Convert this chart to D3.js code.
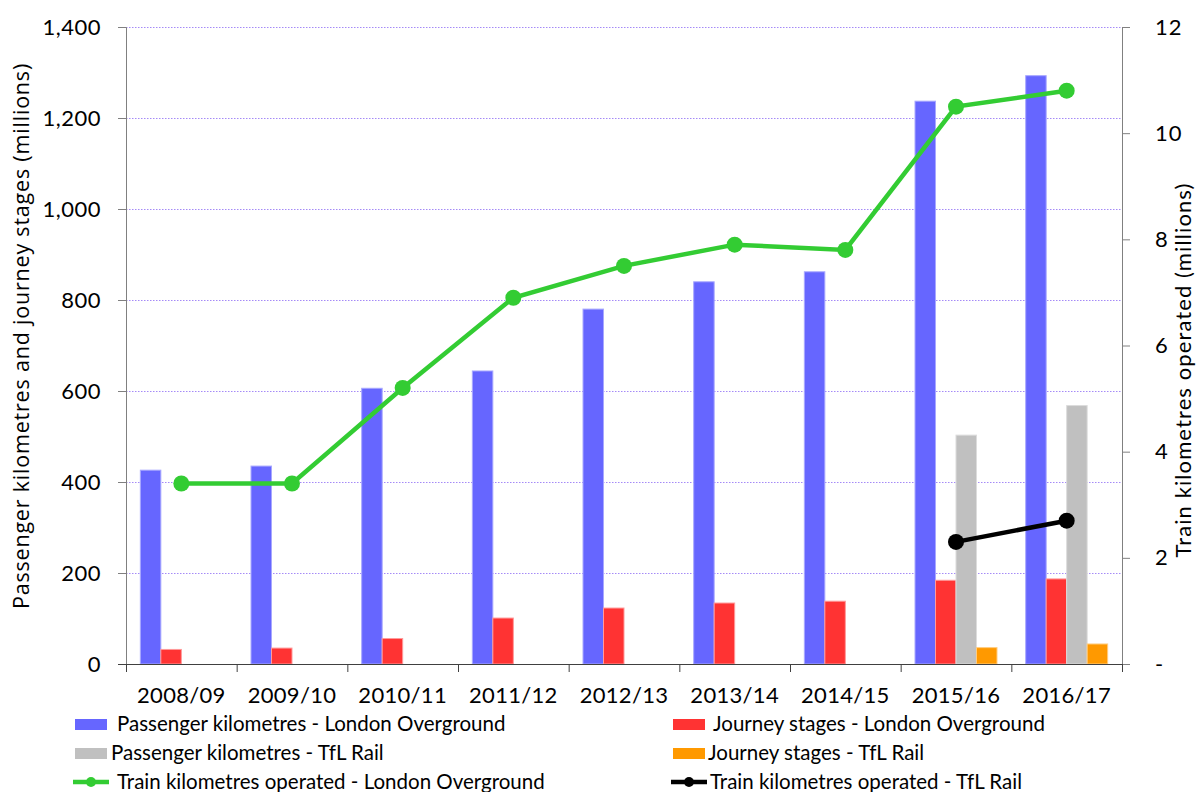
<!DOCTYPE html>
<html>
<head>
<meta charset="utf-8">
<script src="https://cdn.jsdelivr.net/npm/d3@7"></script>
<style>
  body { margin: 0; background: #fff; }
  text { font-family: Lato, "Open Sans", sans-serif; fill: #000; }
</style>
</head>
<body>
<svg id="chart" width="1196" height="792"></svg>
<script>
//Chart data
var years = ["2008/09", "2009/10", "2010/11", "2011/12", "2012/13", "2013/14", "2014/15", "2015/16", "2016/17"];
var paxKmOverground = [426, 435, 606, 644, 780, 840, 862, 1237, 1293];
var journeysOverground = [32, 35, 56, 101, 123, 134, 138, 184, 187];
var paxKmTflRail = [null, null, null, null, null, null, null, 503, 568];
var journeysTflRail = [null, null, null, null, null, null, null, 36, 44];
var trainKmOverground = [3.4, 3.4, 5.2, 6.9, 7.5, 7.9, 7.8, 10.5, 10.8];
var trainKmTflRail = [null, null, null, null, null, null, null, 2.3, 2.7];
var leftTicks = [0, 200, 400, 600, 800, 1000, 1200, 1400];
var rightTicks = [0, 2, 4, 6, 8, 10, 12];

function drawChart(){
    //bar series in drawing order
    var barSeries = [
        {name: "Passenger kilometres - London Overground", values: paxKmOverground, color: "#6666ff", edge: "#a8a8ff"},
        {name: "Journey stages - London Overground", values: journeysOverground, color: "#ff3333", edge: "#ff9a9a"},
        {name: "Passenger kilometres - TfL Rail", values: paxKmTflRail, color: "#c0c0c0", edge: "#dcdcdc"},
        {name: "Journey stages - TfL Rail", values: journeysTflRail, color: "#ff9900", edge: "#ffcc80"}
    ];
    var lineSeries = [
        {name: "Train kilometres operated - London Overground", values: trainKmOverground, color: "#33cc33"},
        {name: "Train kilometres operated - TfL Rail", values: trainKmTflRail, color: "#000000"}
    ];

    var svg = d3.select("#chart");
    var plotLeft = 126, plotRight = 1122, plotTop = 27, plotBottom = 664;

    //scales
    var x = d3.scaleBand().domain(years).range([plotLeft, plotRight]);
    var x1 = d3.scaleBand().domain(d3.range(barSeries.length))
        .range([0, x.bandwidth()]).paddingInner(0).paddingOuter(0.7);
    var y = d3.scaleLinear().domain([0, 1400]).range([plotBottom, plotTop]);
    var y2 = d3.scaleLinear().domain([0, 12]).range([plotBottom, plotTop]);

    //dotted gridlines
    svg.append("g").selectAll("line")
        .data(leftTicks.filter(function(d){ return d > 0; }))
        .enter().append("line")
        .attr("x1", plotLeft).attr("x2", plotRight)
        .attr("y1", function(d){ return y(d) + 0.5; })
        .attr("y2", function(d){ return y(d) + 0.5; })
        .attr("stroke", "#a58af7")
        .attr("stroke-width", 1)
        .attr("stroke-dasharray", "1.5,1.5");

    //bars
    barSeries.forEach(function(s, i){
        svg.append("g").selectAll("rect")
            .data(s.values.map(function(v, j){ return {year: years[j], value: v}; })
                .filter(function(d){ return d.value != null; }))
            .enter().append("rect")
            .attr("x", function(d){ return x(d.year) + x1(i); })
            .attr("width", x1.bandwidth())
            .attr("y", function(d){ return y(d.value); })
            .attr("height", function(d){ return plotBottom - y(d.value); })
            .attr("fill", s.color)
            .attr("stroke", s.edge)
            .attr("stroke-width", 1);
    });

    //left axis
    var leftAxis = svg.append("g")
        .attr("transform", "translate(" + plotLeft + ",0)")
        .call(d3.axisLeft(y).tickValues(leftTicks).tickSize(8).tickPadding(17)
            .tickFormat(d3.format(",")));
    leftAxis.select(".domain").attr("stroke", "#808080");
    leftAxis.selectAll(".tick line").attr("stroke", "#808080");
    leftAxis.selectAll("text").style("font-size", "22px").style("font-family", "Lato")
        .style("letter-spacing", "0.5px");

    //right axis
    var rightAxis = svg.append("g")
        .attr("transform", "translate(" + plotRight + ",0)")
        .call(d3.axisRight(y2).tickValues(rightTicks).tickSize(8).tickPadding(25)
            .tickFormat(function(d){ return d == 0 ? "-" : d; }));
    rightAxis.select(".domain").attr("stroke", "#808080");
    rightAxis.selectAll(".tick line").attr("stroke", "#808080");
    rightAxis.selectAll("text").style("font-size", "22px").style("font-family", "Lato")
        .style("letter-spacing", "1px");

    //bottom axis with ticks on the category edges
    svg.append("line")
        .attr("x1", plotLeft - 8).attr("x2", plotRight)
        .attr("y1", plotBottom + 0.5).attr("y2", plotBottom + 0.5)
        .attr("stroke", "#404040");
    svg.append("g").selectAll("line")
        .data(years.concat(["end"]))
        .enter().append("line")
        .attr("x1", function(d, i){ return plotLeft + i * x.step() + 0.5; })
        .attr("x2", function(d, i){ return plotLeft + i * x.step() + 0.5; })
        .attr("y1", plotBottom).attr("y2", plotBottom + 8)
        .attr("stroke", "#404040");
    svg.append("g").selectAll("text")
        .data(years)
        .enter().append("text")
        .attr("x", function(d){ return x(d) + x.bandwidth() / 2; })
        .attr("y", plotBottom + 39)
        .attr("text-anchor", "middle")
        .style("font-size", "22px")
        .style("letter-spacing", "0.3px")
        .text(function(d){ return d; });

    //lines with markers
    lineSeries.forEach(function(s){
        var pts = s.values.map(function(v, j){ return {year: years[j], value: v}; })
            .filter(function(d){ return d.value != null; });
        var line = d3.line()
            .x(function(d){ return x(d.year) + x.bandwidth() / 2; })
            .y(function(d){ return y2(d.value); });
        svg.append("path")
            .datum(pts)
            .attr("d", line)
            .attr("fill", "none")
            .attr("stroke", s.color)
            .attr("stroke-width", 4.5);
        svg.append("g").selectAll("circle")
            .data(pts)
            .enter().append("circle")
            .attr("cx", function(d){ return x(d.year) + x.bandwidth() / 2; })
            .attr("cy", function(d){ return y2(d.value); })
            .attr("r", 8)
            .attr("fill", s.color);
    });

    //axis titles
    svg.append("text")
        .attr("transform", "translate(29,336) rotate(-90)")
        .attr("text-anchor", "middle")
        .style("font-family", "'Open Sans'")
        .style("font-size", "21.5px")
        .style("letter-spacing", "0.8px")
        .text("Passenger kilometres and journey stages (millions)");
    svg.append("text")
        .attr("transform", "translate(1191,370) rotate(-90)")
        .attr("text-anchor", "middle")
        .style("font-size", "22px")
        .style("letter-spacing", "1.1px")
        .text("Train kilometres operated (millions)");

    //legend
    var legendItems = [
        {s: barSeries[0], type: "bar", sx: 75, tx: 117, y: 724},
        {s: barSeries[1], type: "bar", sx: 673, tx: 713, y: 724},
        {s: barSeries[2], type: "bar", sx: 75, tx: 111, y: 753},
        {s: barSeries[3], type: "bar", sx: 673, tx: 708, y: 753},
        {s: lineSeries[0], type: "line", sx: 73, tx: 117, y: 782},
        {s: lineSeries[1], type: "line", sx: 671, tx: 710, y: 782}
    ];
    var legend = svg.append("g");
    legendItems.forEach(function(d){
        if (d.type == "bar"){
            legend.append("rect")
                .attr("x", d.sx).attr("y", d.y - 5)
                .attr("width", 32).attr("height", 11)
                .attr("fill", d.s.color);
        } else {
            legend.append("line")
                .attr("x1", d.sx).attr("x2", d.sx + 36)
                .attr("y1", d.y).attr("y2", d.y)
                .attr("stroke", d.s.color).attr("stroke-width", 4.5);
            legend.append("circle")
                .attr("cx", d.sx + 18).attr("cy", d.y).attr("r", 5)
                .attr("fill", d.s.color);
        }
        legend.append("text")
            .attr("x", d.tx).attr("y", d.y + 7)
            .style("font-size", "20.5px")
            .text(d.s.name);
    });
}

drawChart();
</script>
</body>
</html>
